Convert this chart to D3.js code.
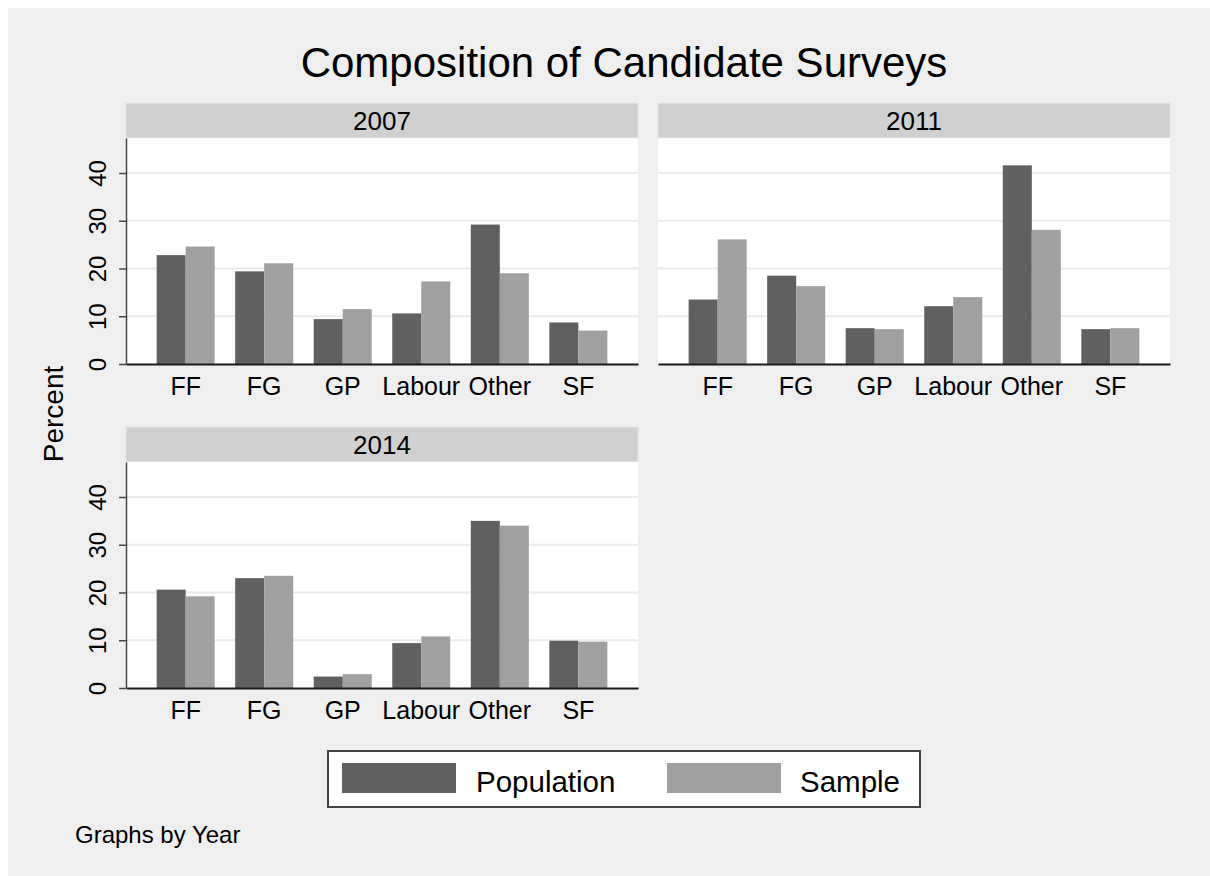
<!DOCTYPE html>
<html>
<head>
  <meta charset="utf-8">
  <script src="https://d3js.org/d3.v7.min.js"></script>
  <style>
    body { margin: 0; background: #ffffff; }
    text { font-family: "Liberation Sans", Arial, Helvetica, sans-serif; fill: #000; }
  </style>
</head>
<body>
  <script type="text/javascript">
    // chart data
    var years = ["2007", "2011", "2014"];
    var parties = ["FF", "FG", "GP", "Labour", "Other", "SF"];
    var seriesNames = ["Population", "Sample"];
    var pop2007 = [22.8, 19.4, 9.4, 10.6, 29.2, 8.7];
    var samp2007 = [24.6, 21.1, 11.5, 17.3, 19.0, 7.0];
    var pop2011 = [13.5, 18.5, 7.5, 12.1, 41.6, 7.3];
    var samp2011 = [26.1, 16.3, 7.3, 14.0, 28.1, 7.5];
    var pop2014 = [20.6, 23.0, 2.4, 9.4, 35.0, 9.9];
    var samp2014 = [19.2, 23.5, 2.9, 10.8, 34.0, 9.7];
    var yTicks = [0, 10, 20, 30, 40];

    var colors = { "Population": "#606060", "Sample": "#a0a0a0" };

    var width = 1210, height = 876;
    var plotW = 512, plotH = 226, stripH = 35;

    // panel placement: left of plot area, top of strip
    var panels = [
      { year: years[0], x: 126, y: 103, values: [pop2007, samp2007], yaxis: true },
      { year: years[1], x: 658, y: 103, values: [pop2011, samp2011], yaxis: false },
      { year: years[2], x: 126, y: 427, values: [pop2014, samp2014], yaxis: true }
    ];

    var svg = d3.select("body")
      .append("svg")
      .attr("width", width)
      .attr("height", height);

    svg.append("rect")
      .attr("x", 8).attr("y", 8)
      .attr("width", width - 8).attr("height", height - 8)
      .attr("fill", "#efefef");

    svg.append("text")
      .attr("x", 624)
      .attr("y", 77)
      .attr("text-anchor", "middle")
      .style("font-size", "42px")
      .text("Composition of Candidate Surveys");

    svg.append("text")
      .attr("transform", "translate(63,414) rotate(-90)")
      .attr("text-anchor", "middle")
      .style("font-size", "28px")
      .text("Percent");

    var x = d3.scaleBand()
      .domain(parties)
      .range([0, plotW])
      .paddingInner(0.261)
      .paddingOuter(0.39);

    var xs = d3.scaleBand()
      .domain(seriesNames)
      .range([0, x.bandwidth()]);

    var y = d3.scaleLinear()
      .domain([0, plotH / 4.775])
      .range([plotH, 0]);

    panels.forEach(function (p) {
      var g = svg.append("g")
        .attr("transform", "translate(" + p.x + "," + p.y + ")");

      // strip with year
      g.append("rect")
        .attr("x", 0).attr("y", 0)
        .attr("width", plotW).attr("height", stripH)
        .attr("fill", "#d0d0d0")
        .attr("stroke", "#dde9ee")
        .attr("stroke-width", 1);
      g.append("text")
        .attr("x", plotW / 2)
        .attr("y", 26.5)
        .attr("text-anchor", "middle")
        .style("font-size", "26px")
        .text(p.year);

      var plot = g.append("g")
        .attr("transform", "translate(0," + stripH + ")");

      plot.append("rect")
        .attr("width", plotW).attr("height", plotH)
        .attr("fill", "#ffffff");

      plot.selectAll(".grid")
        .data(yTicks.filter(function (t) { return t > 0; }))
        .enter()
        .append("line")
        .attr("x1", 0).attr("x2", plotW)
        .attr("y1", function (d) { return y(d); })
        .attr("y2", function (d) { return y(d); })
        .attr("stroke", "#eaeaea")
        .attr("stroke-width", 2);

      var rows = [];
      parties.forEach(function (party, i) {
        seriesNames.forEach(function (s, j) {
          rows.push({ party: party, series: s, value: p.values[j][i] });
        });
      });

      plot.selectAll(".bar")
        .data(rows)
        .enter()
        .append("rect")
        .attr("x", function (d) { return x(d.party) + xs(d.series); })
        .attr("y", function (d) { return y(d.value); })
        .attr("width", xs.bandwidth())
        .attr("height", function (d) { return plotH - y(d.value); })
        .attr("fill", function (d) { return colors[d.series]; });

      var xAxis = plot.append("g")
        .attr("transform", "translate(0," + plotH + ")")
        .call(d3.axisBottom(x).tickSize(0).tickPadding(0));
      xAxis.select(".domain")
        .attr("stroke", "#1a1a1a")
        .attr("stroke-width", 2);
      xAxis.selectAll("text")
        .attr("y", 31)
        .attr("dy", 0)
        .style("font-size", "25px")
        .style("font-family", "'Liberation Sans', Arial, sans-serif")
        .attr("fill", "#000");

      if (p.yaxis) {
        var yAxis = plot.append("g")
          .call(d3.axisLeft(y).tickValues(yTicks).tickSize(7).tickSizeOuter(0));
        yAxis.select(".domain")
          .attr("stroke", "#444")
          .attr("stroke-width", 1.5);
        yAxis.selectAll(".tick line")
          .attr("stroke", "#444")
          .attr("stroke-width", 1.5);
        yAxis.selectAll("text")
          .attr("transform", "rotate(-90)")
          .attr("x", 0)
          .attr("y", -20)
          .attr("dy", 0)
          .attr("text-anchor", "middle")
          .style("font-size", "24px")
          .style("font-family", "'Liberation Sans', Arial, sans-serif")
          .attr("fill", "#000");
      }
    });

    // legend
    var legend = svg.append("g");
    legend.append("rect")
      .attr("x", 328).attr("y", 751)
      .attr("width", 592).attr("height", 56)
      .attr("fill", "#ffffff")
      .attr("stroke", "#444")
      .attr("stroke-width", 2);

    var legendPos = [{ sx: 342, tx: 476 }, { sx: 667, tx: 800 }];
    seriesNames.forEach(function (s, i) {
      legend.append("rect")
        .attr("x", legendPos[i].sx).attr("y", 763)
        .attr("width", 114).attr("height", 30)
        .attr("fill", colors[s]);
      legend.append("text")
        .attr("x", legendPos[i].tx)
        .attr("y", 792)
        .style("font-size", "29.5px")
        .text(s);
    });

    svg.append("text")
      .attr("x", 75)
      .attr("y", 843)
      .style("font-size", "24px")
      .text("Graphs by Year");
  </script>
</body>
</html>
